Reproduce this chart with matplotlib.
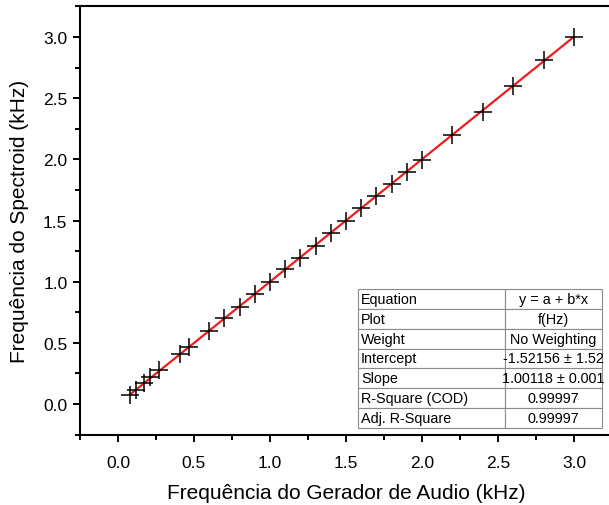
import matplotlib
matplotlib.use("Agg")
import matplotlib.pyplot as plt
import numpy as np
from matplotlib.ticker import MultipleLocator

plt.rcParams['font.family'] = ['Liberation Sans', 'DejaVu Sans']

# Data (kHz)
freq_gerador = [0.08, 0.12, 0.17, 0.21, 0.27, 0.41, 0.47, 0.60, 0.70, 0.80, 0.90,
                1.00, 1.10, 1.20, 1.30, 1.40, 1.50, 1.60, 1.70, 1.80, 1.90, 2.00,
                2.20, 2.40, 2.60, 2.80, 3.00]
freq_spectroid = [0.075, 0.115, 0.168, 0.22, 0.278, 0.412, 0.47, 0.595, 0.70, 0.795, 0.90,
                  1.00, 1.10, 1.195, 1.295, 1.40, 1.50, 1.60, 1.70, 1.80, 1.895, 1.995,
                  2.20, 2.39, 2.60, 2.81, 3.00]

intercept_hz = -1.52156
slope = 1.00118

table_rows = [
    ["Equation", "y = a + b*x"],
    ["Plot", "f(Hz)"],
    ["Weight", "No Weighting"],
    ["Intercept", "-1.52156 \u00b1 1.52"],
    ["Slope", "1.00118 \u00b1 0.001"],
    ["R-Square (COD)", "0.99997"],
    ["Adj. R-Square", "0.99997"],
]

W, H = 609, 506
fig = plt.figure(figsize=(W / 100, H / 100), dpi=100)
ax = fig.add_axes([80 / W, (H - 435.6) / H, 532 / W, 428.2 / H])

xfit = np.array([min(freq_gerador), max(freq_gerador)])
yfit = intercept_hz / 1000 + slope * xfit
ax.plot(xfit, yfit, color='#ee1c1c', lw=1.6, zorder=2)
ax.plot(freq_gerador, freq_spectroid, linestyle='none', marker='+', color='black',
        markersize=13, markeredgewidth=1.1, zorder=3)

ax.set_xlim(-0.25, 3.25)
ax.set_ylim(-0.25, 3.25)
ax.xaxis.set_minor_locator(MultipleLocator(0.25))
ax.yaxis.set_minor_locator(MultipleLocator(0.25))
ax.set_xticks(np.arange(0, 3.01, 0.5))
ax.set_yticks(np.arange(0, 3.01, 0.5))
ax.set_xticklabels([f"{v:.1f}" for v in np.arange(0, 3.01, 0.5)])
ax.set_yticklabels([f"{v:.1f}" for v in np.arange(0, 3.01, 0.5)])
ax.tick_params(which='both', direction='out', width=1.4, labelsize=12.5, top=False, right=False)
ax.tick_params(which='major', length=5)
ax.tick_params(which='minor', length=3.5)
ax.tick_params(axis='x', pad=10)
ax.tick_params(axis='y', pad=4)
for s in ['left', 'bottom', 'top']:
    ax.spines[s].set_linewidth(1.5)
ax.spines['right'].set_visible(False)

ax.set_xlabel("Frequência do Gerador de Audio (kHz)", fontsize=15, labelpad=9)
ax.set_ylabel("Frequência do Spectroid (kHz)", fontsize=15, labelpad=10)

tbl = ax.table(cellText=table_rows, cellLoc='left',
               bbox=[(358 - 80) / 532, (435.6 - 429) / 428.2, 244 / 532, 139 / 428.2],
               colWidths=[147, 97])
tbl.auto_set_font_size(False)
tbl.set_fontsize(10.4)
for (r, c), cell in tbl.get_celld().items():
    cell.set_edgecolor('#8a8a8a')
    cell.set_linewidth(0.8)
    if c == 1:
        cell.get_text().set_ha('center')
        cell._loc = 'center'
    else:
        cell.PAD = 0.02

fig.savefig("out.png", dpi=100)
